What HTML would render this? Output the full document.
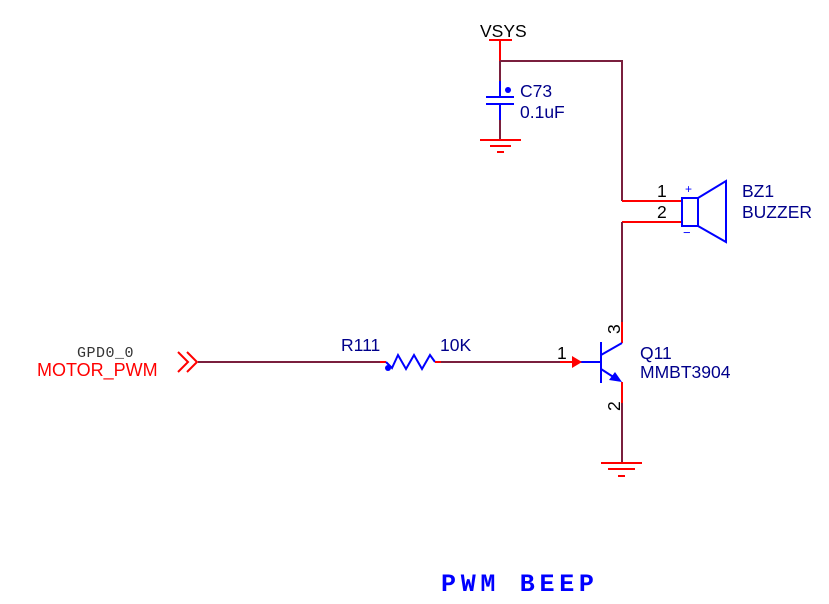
<!DOCTYPE html>
<html><head><style>
html,body{margin:0;padding:0;background:#fff;}
svg{display:block;}
</style></head><body>
<svg width="829" height="604" viewBox="0 0 829 604" xmlns="http://www.w3.org/2000/svg" font-family="Liberation Sans, sans-serif">
<g fill="none" stroke-width="2">
<line x1="489" y1="40" x2="512" y2="40" stroke="#f00"/>
<line x1="500" y1="40" x2="500" y2="61" stroke="#f00"/>
<polyline points="500,61 622,61 622,201" stroke="#7a1f3d"/>
<line x1="500" y1="61" x2="500" y2="81" stroke="#7a1f3d"/>
<line x1="500" y1="81" x2="500" y2="97" stroke="#00f"/>
<line x1="486" y1="97" x2="514" y2="97" stroke="#00f"/>
<line x1="486" y1="104" x2="514" y2="104" stroke="#00f"/>
<line x1="500" y1="104" x2="500" y2="120" stroke="#00f"/>
<line x1="500" y1="120" x2="500" y2="140" stroke="#7a1f3d"/>
<line x1="480" y1="140" x2="521" y2="140" stroke="#f00"/>
<line x1="490" y1="146" x2="511" y2="146" stroke="#f00"/>
<line x1="497" y1="152" x2="504" y2="152" stroke="#f00"/>
<line x1="622" y1="201" x2="682" y2="201" stroke="#f00"/>
<line x1="622" y1="222" x2="682" y2="222" stroke="#f00"/>
<line x1="622" y1="222" x2="622" y2="322" stroke="#7a1f3d"/>
<rect x="682" y="198" width="16" height="28" stroke="#00f"/>
<polyline points="698,198 726,181 726,242 698,226" stroke="#00f"/>
<line x1="622" y1="322" x2="622" y2="343" stroke="#f00"/>
<line x1="622" y1="343" x2="601" y2="355" stroke="#00f"/>
<line x1="601" y1="342" x2="601" y2="383" stroke="#00f"/>
<line x1="601" y1="369" x2="618" y2="380" stroke="#00f"/>
<line x1="622" y1="382" x2="622" y2="403" stroke="#f00"/>
<line x1="622" y1="403" x2="622" y2="463" stroke="#7a1f3d"/>
<line x1="601" y1="463" x2="642" y2="463" stroke="#f00"/>
<line x1="608" y1="469" x2="635" y2="469" stroke="#f00"/>
<line x1="618" y1="476" x2="625" y2="476" stroke="#f00"/>
<line x1="560" y1="362" x2="580" y2="362" stroke="#f00"/>
<line x1="580" y1="362" x2="601" y2="362" stroke="#00f"/>
<line x1="198" y1="362" x2="380" y2="362" stroke="#7a1f3d"/>
<line x1="380" y1="362" x2="386" y2="362" stroke="#f00"/>
<polyline points="386,362 392,368 398,355 406,369 414,355 422,369 430,355 435,362" stroke="#00f"/>
<line x1="435" y1="362" x2="441" y2="362" stroke="#f00"/>
<line x1="441" y1="362" x2="560" y2="362" stroke="#7a1f3d"/>
<polyline points="178,352 188,362 178,372" stroke="#f00"/>
<polyline points="187,352 197,362 187,372" stroke="#f00"/>
</g>
<polygon points="572,356 582,362 572,368" fill="#f00"/>
<polygon points="622,382 609,380 615,372" fill="#00f"/>
<circle cx="508" cy="90" r="3" fill="#00f"/>
<circle cx="388" cy="368" r="3" fill="#00f"/>
<g font-size="17.5">
<text x="480" y="37" fill="#000">VSYS</text>
<text x="520" y="97" fill="#00008b">C73</text>
<text x="520" y="118" fill="#00008b">0.1uF</text>
<text x="657" y="197" fill="#000">1</text>
<text x="657" y="218" fill="#000">2</text>
<text x="742" y="197" fill="#00008b">BZ1</text>
<text x="742" y="218" fill="#00008b">BUZZER</text>
<text x="640" y="359" fill="#00008b">Q11</text>
<text x="640" y="378" fill="#00008b">MMBT3904</text>
<text x="557" y="359" fill="#000">1</text>
<text x="341" y="351" fill="#00008b">R111</text>
<text x="440" y="351" fill="#00008b">10K</text>
<text x="37" y="376" fill="#f00" font-size="18">MOTOR_PWM</text>
<text transform="translate(620,334) rotate(-90)" fill="#000">3</text>
<text transform="translate(620,411) rotate(-90)" fill="#000">2</text>
</g>
<text x="685" y="193" fill="#00f" font-size="12">+</text>
<text x="683" y="237" fill="#00f" font-size="13">−</text>
<text x="77" y="357" fill="#333" font-size="15" letter-spacing="0.5" font-family="Liberation Mono, monospace">GPD0_0</text>
<text x="441" y="591" fill="#00f" font-size="25" font-weight="bold" letter-spacing="4.7" font-family="Liberation Mono, monospace">PWM  BEEP</text>
</svg>
</body></html>
